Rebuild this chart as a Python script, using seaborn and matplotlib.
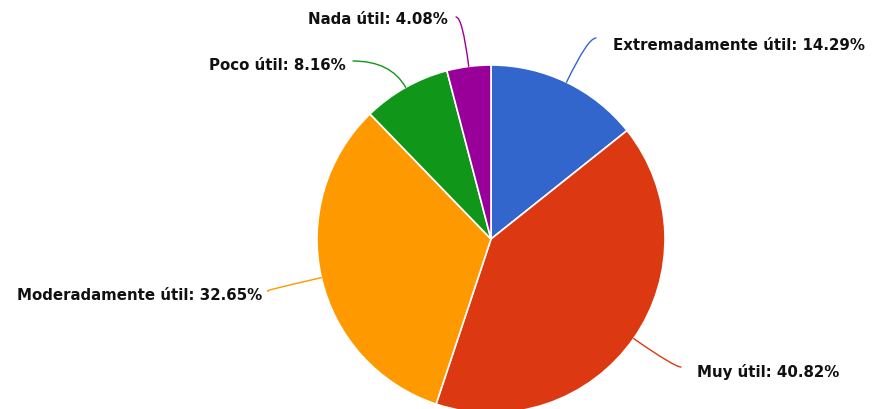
# Pie chart of how useful respondents found the resource, with curved leader labels

import matplotlib.pyplot as plt
import numpy as np
import seaborn as sns

categories = ["Extremadamente útil", "Muy útil", "Moderadamente útil", "Poco útil", "Nada útil"]
percentages = [14.29, 40.82, 32.65, 8.16, 4.08]
colors = ["#3366cc", "#dc3912", "#ff9900", "#109618", "#990099"]

# label layout (pixel coords, y up): text anchor, alignment, line end
label_pos = [(613, 365), (697, 38), (262, 114), (346, 345), (448, 390)]
label_ha = ["left", "left", "right", "right", "right"]
line_end = [(596, 371), (681, 42), (268, 118), (353, 348), (456, 392)]

sns.set_theme(style="white")
plt.rcParams["font.family"] = ["DejaVu Sans"]

fig = plt.figure(figsize=(8.72, 4.10), dpi=100)
ax = fig.add_axes([0, 0, 1, 1])

cx, cy, r = 491, 170, 174
wedges, _ = ax.pie(percentages, colors=colors, startangle=90, counterclock=False,
                   center=(cx, cy), radius=r, frame=True,
                   wedgeprops=dict(edgecolor="white", linewidth=1.2))
ax.set_xlim(0, 872)
ax.set_ylim(0, 410)
ax.set_aspect("equal")
ax.axis("off")

for w, cat, pct, pos, ha, end, col in zip(wedges, categories, percentages,
                                           label_pos, label_ha, line_end, colors):
    mid = np.deg2rad((w.theta1 + w.theta2) / 2)
    anchor = (cx + r * np.cos(mid), cy + r * np.sin(mid))
    angle_b = np.rad2deg(mid)
    ax.annotate("", xy=anchor, xytext=end,
                arrowprops=dict(arrowstyle="-", color=col, lw=1,
                                shrinkA=0, shrinkB=0,
                                connectionstyle=f"angle3,angleA=0,angleB={angle_b:.1f}"))
    ax.text(pos[0], pos[1], f"{cat}: {pct:.2f}%", ha=ha, va="center",
            fontsize=10.8, fontweight="bold", color="#111111")

fig.savefig("out.png", dpi=100)
